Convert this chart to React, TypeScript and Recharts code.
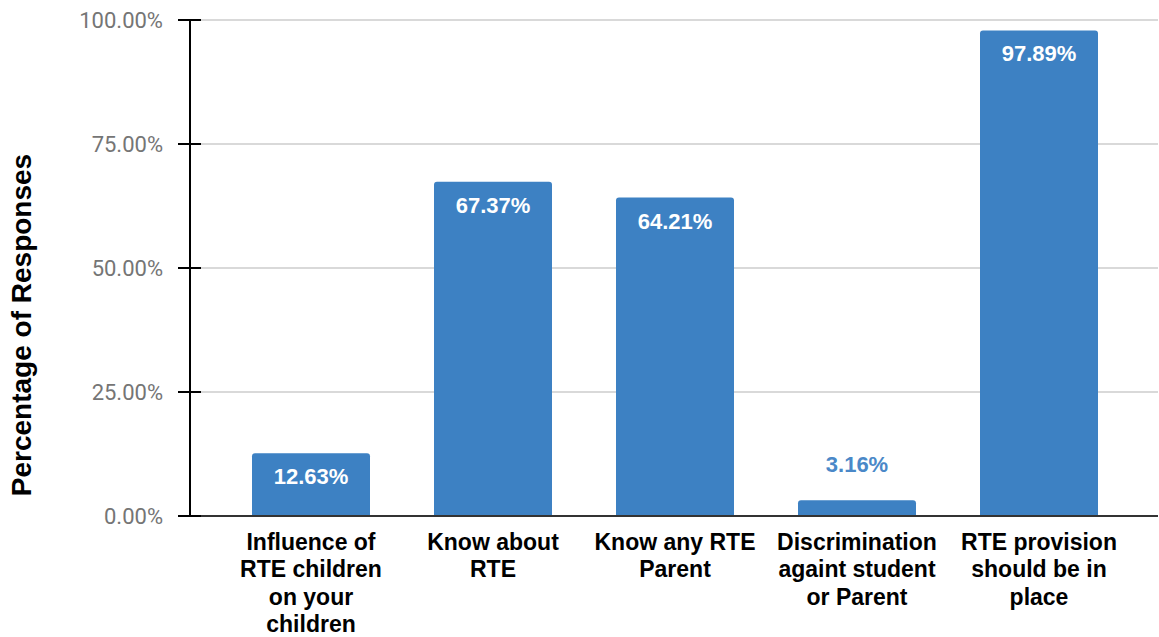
import React from 'react';
import { BarChart, Bar, XAxis, YAxis, CartesianGrid, LabelList } from 'recharts';

const categories = [
  'Influence of RTE children on your children',
  'Know about RTE',
  'Know any RTE Parent',
  'Discrimination againt student or Parent',
  'RTE provision should be in place',
];
const values = [12.63, 67.37, 64.21, 3.16, 97.89];
const tickLines: string[][] = [
  ['Influence of', 'RTE children', 'on your', 'children'],
  ['Know about', 'RTE'],
  ['Know any RTE', 'Parent'],
  ['Discrimination', 'againt student', 'or Parent'],
  ['RTE provision', 'should be in', 'place'],
];
const yTicks = [0, 25, 50, 75, 100];
const yLabel = 'Percentage of Responses';

const data = categories.map((c, i) => ({ name: c, value: values[i] }));

const BLUE = '#3d81c3';
const BOLD = '"Liberation Sans", Arial, sans-serif';

const XTick = (props: any) => {
  const { x, y, index } = props;
  const lines = tickLines[index] || [props.payload.value];
  return (
    <g>
      {lines.map((l, i) => (
        <text key={i} x={x} y={y + 33.5 + i * 27.5} textAnchor="middle" fontFamily={BOLD} fontWeight="bold" fontSize={23} fill="#000">
          {l}
        </text>
      ))}
    </g>
  );
};

const YTick = (props: any) => {
  const { x, y, payload } = props;
  return (
    <g>
      <line x1={x + 15} x2={x + 38} y1={y} y2={y} stroke="#000" strokeWidth={2} />
      <text x={x} y={y} dy="0.36em" textAnchor="end" fontFamily="Roboto, sans-serif" fontSize={22} fill="#757575">
        {Number(payload.value).toFixed(2) + '%'}
      </text>
    </g>
  );
};

const BarLabel = (props: any) => {
  const { x, y, width, value } = props;
  const inside = value >= 10;
  return (
    <text
      x={x + width / 2}
      y={inside ? y + 31 : y - 28}
      textAnchor="middle"
      fontFamily={BOLD}
      fontWeight="bold"
      fontSize={22}
      fill={inside ? '#ffffff' : '#4a88c8'}
    >
      {value.toFixed(2) + '%'}
    </text>
  );
};

const YLabel = (props: any) => {
  const vb = props.viewBox || {};
  const cx = vb.x + 21;
  const cy = vb.y + vb.height / 2 + 57;
  return (
    <text
      x={cx}
      y={cy}
      transform={`rotate(-90, ${cx}, ${cy})`}
      textAnchor="middle"
      dominantBaseline="central"
      fontFamily={BOLD}
      fontWeight="bold"
      fontSize={28}
      fill="#000"
    >
      {yLabel}
    </text>
  );
};

export default function App() {
  return (
    <div style={{ position: 'absolute', left: 0, top: 0, background: '#fff' }}>
      <BarChart width={1159} height={637} data={data} margin={{ top: 20, right: 1, left: 0, bottom: 0 }}>
        <CartesianGrid vertical={false} stroke="#cccccc" strokeWidth={1.5} />
        <XAxis
          dataKey="name"
          padding={{ left: 30, right: 28 }}
          axisLine={{ stroke: '#333', strokeWidth: 2 }}
          tickLine={false}
          tickSize={0}
          tickMargin={0}
          interval={0}
          tick={<XTick />}
          height={121}
        />
        <YAxis
          width={190}
          domain={[0, 100]}
          ticks={yTicks}
          axisLine={{ stroke: '#000', strokeWidth: 2 }}
          tickLine={false}
          tickSize={12}
          tickMargin={15}
          tick={<YTick />}
          label={<YLabel />}
        />
        <Bar dataKey="value" fill={BLUE} barSize={118} radius={[3, 3, 0, 0]} isAnimationActive={false}>
          <LabelList dataKey="value" content={<BarLabel />} />
        </Bar>
      </BarChart>
    </div>
  );
}
